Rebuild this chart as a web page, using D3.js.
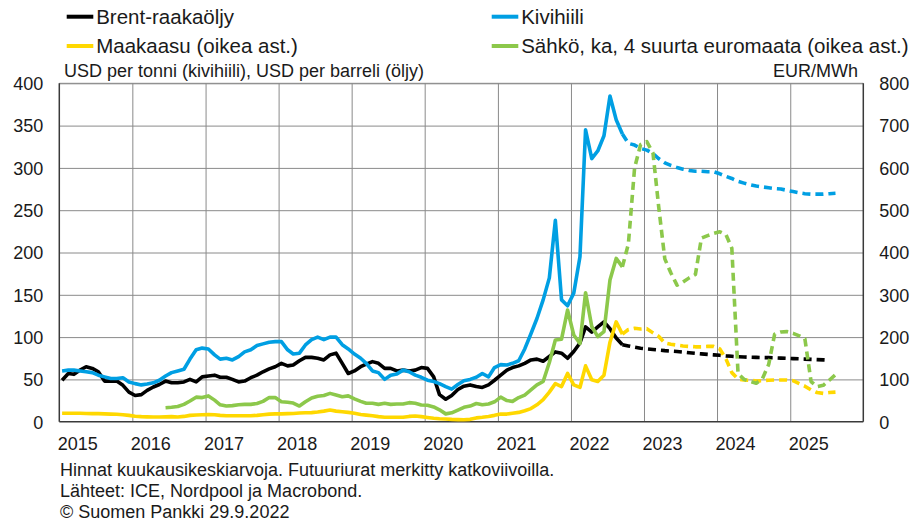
<!DOCTYPE html>
<html>
<head>
<meta charset="utf-8">
<script src="https://cdn.jsdelivr.net/npm/d3@7"></script>
<style>
  body { margin: 0; background: #ffffff; }
  svg text { font-family: "Liberation Sans", Arial, sans-serif; fill: #1a1a1a; }
</style>
</head>
<body>
<svg id="chart" width="918" height="522"></svg>
<script>
// ---------------- DATA ----------------
const yearLabels = ["2015","2016","2017","2018","2019","2020","2021","2022","2023","2024","2025"];
const leftTicks = [0, 50, 100, 150, 200, 250, 300, 350, 400];
const rightTicks = [0, 100, 200, 300, 400, 500, 600, 700, 800];
const seriesNames = ["Brent-raakaöljy", "Kivihiili", "Maakaasu (oikea ast.)", "Sähkö, ka, 4 suurta euromaata (oikea ast.)"];
const leftTitle = "USD per tonni (kivihiili), USD per barreli (öljy)";
const rightTitle = "EUR/MWh";
const notes = [
  "Hinnat kuukausikeskiarvoja. Futuuriurat merkitty katkoviivoilla.",
  "Lähteet: ICE, Nordpool ja Macrobond.",
  "© Suomen Pankki 29.9.2022"
];

// monthly averages, actual data
const actualStart = "2015-01";
const brent = [
  49, 57, 56, 61, 65, 63, 59, 48, 48, 48, 43, 35,
  31, 32, 37, 41, 44, 48, 46, 46, 47, 50, 47, 53,
  54, 55, 52.5, 52.5, 50, 47, 48, 52, 55, 59, 62.5, 65,
  69, 66, 67, 72, 76, 76, 75, 73, 79, 81, 69, 57,
  60, 65, 68, 71, 69, 63, 63, 60, 61, 60, 61, 64,
  63, 53, 32, 26.5, 31, 38, 42, 43.5, 41.5, 40.5, 43.5, 49,
  55, 61, 64, 66, 69, 73, 74, 71.5, 77, 82.5, 81, 75,
  83, 93, 112, 106, 112, 118, 110, 99, 91
];
const coal = [
  60, 61, 61, 60, 59, 58, 55, 53, 51, 51, 52, 47,
  45, 43.5, 44.5, 46, 49, 54, 58, 60, 62, 74, 85, 87,
  86, 79, 74, 75, 73, 77, 82.5, 85, 90, 92, 94, 94.6,
  94.6, 85, 80, 81, 90.7, 97, 100, 97, 100, 100, 91, 86,
  80, 75, 69, 60, 58, 50, 55, 56.5, 61, 59, 55, 52.5,
  49, 47.5, 45, 41.5, 38.5, 44, 48.5, 50, 52.5, 57, 53, 64,
  67.5, 67, 69, 72, 86, 104, 122, 144, 170, 238, 144, 137,
  152, 195, 345, 311, 320, 338, 385, 357, 340
];
const gas = [
  20, 20, 20, 20, 19.5, 19, 19, 18.5, 18, 17.5, 16.5, 15,
  13, 12, 11.5, 11, 11, 11.5, 12, 11, 12.5, 15, 16, 16.5,
  17, 16.5, 15, 14, 14, 14, 14, 14, 15, 16.5, 18, 18.5,
  18.5, 19, 19.5, 20.5, 21, 21.5, 23, 25, 27.5, 25, 23.5, 22,
  20, 17, 15.5, 14, 12, 10.5, 10.5, 10.5, 10.5, 12.5, 13.5, 12,
  10, 8, 7, 6.5, 5.5, 5, 4.5, 5.5, 9, 10.5, 12.5, 15,
  18, 18, 20, 22, 26, 31, 40, 52, 70, 90, 83, 114,
  87, 81, 132, 99, 95, 110, 188, 236, 207
];
const powerStart = "2016-06";
const power = [
  33, 34, 36, 41, 49, 58, 57,
  61, 51, 40, 37, 38, 40, 41, 41, 43, 48, 57, 57,
  47, 46, 44, 37, 47, 56, 60, 62, 67, 63, 59, 61,
  54, 48, 43.5, 43.5, 41, 43.5, 41, 42, 42, 45, 43.5, 39.5,
  39, 35, 28, 18.5, 21, 27.5, 34, 37, 43, 40, 42, 47,
  58, 50, 48, 57, 63, 75, 87, 95, 140, 193, 195, 264,
  205, 185, 305, 225, 201, 213, 335, 386, 366
];

// futures curves (dashed), starting from last actual month
const futuresStart = "2022-09";
const brentFutures = [
  91, 89.5, 88, 86.8, 86, 85.3, 84.7, 84, 83.5, 83, 82.3, 81.5,
  80.8, 80.2, 79.6, 79, 78.5, 77.8, 77.3, 76.8, 76.5, 76.2, 76, 75.8,
  75.7, 75.5, 75.2, 74.9, 74.6, 74.3, 74, 73.7, 73.4, 73.1, 72.8
];
const coalFutures = [
  340, 329, 327, 323, 321, 317, 311, 306, 303, 300.5, 298.5, 297,
  296, 296, 295.5, 295.5, 293, 290, 287.5, 284, 282, 280, 278.5, 277.5,
  276.5, 275.5, 275, 273.5, 272, 270.5, 269.5, 269, 269, 269, 269.5, 270
];
const gasFutures = [
  207, 218, 221, 219, 220, 210, 202, 186, 183, 181, 179, 178,
  177, 177, 178, 178, 172, 148, 116, 101, 98.5, 98, 96, 97,
  98, 98.5, 98.5, 98.5, 97, 90, 84, 75, 69, 67, 69, 70
];
const powerFutures = [
  366, 420, 600, 655, 662, 635, 510, 385, 352, 323, 330, 340,
  348, 434, 440, 445, 449, 442, 410, 114, 100, 95, 91, 102,
  135, 207, 212, 213, 209, 203, 196, 95, 83, 86, 98, 111
];

// ---------------- STYLE / LAYOUT ----------------
const style = {
  colors: ["#000000", "#009fe3", "#ffd800", "#8cc84b"],
  lineWidth: 3.6,
  dash: "8,5",
  grid: "#8a8a8a",
  axis: "#3a3a3a",
  font: 18,
  legendFont: 20.5
};
const plot = { left: 59.3, right: 863.3, top: 83.3, bottom: 421.7 };

// ---------------- SCALES ----------------
const parseMonth = d3.timeParse("%Y-%m");
const x = d3.scaleTime()
  .domain([new Date(2015, 0, 1), new Date(2026, 0, 1)])
  .range([plot.left, plot.right]);
const yL = d3.scaleLinear().domain([0, 400]).range([plot.bottom, plot.top]);
const yR = d3.scaleLinear().domain([0, 800]).range([plot.bottom, plot.top]);

function toPoints(start, values) {
  const s = parseMonth(start);
  return values.map((v, i) => ({ date: d3.timeDay.offset(d3.timeMonth.offset(s, i), 14), v }));
}

const series = [
  { name: seriesNames[0], scale: yL, color: style.colors[0], actual: toPoints(actualStart, brent), fut: toPoints(futuresStart, brentFutures) },
  { name: seriesNames[1], scale: yL, color: style.colors[1], actual: toPoints(actualStart, coal), fut: toPoints(futuresStart, coalFutures) },
  { name: seriesNames[2], scale: yR, color: style.colors[2], actual: toPoints(actualStart, gas), fut: toPoints(futuresStart, gasFutures) },
  { name: seriesNames[3], scale: yR, color: style.colors[3], actual: toPoints(powerStart, power), fut: toPoints(futuresStart, powerFutures) }
];

const svg = d3.select("#chart");

// ---------------- GRID ----------------
const yearDates = yearLabels.map(y => new Date(+y, 0, 1));
const grid = svg.append("g");
grid.append("g")
  .attr("transform", `translate(${plot.left},0)`)
  .call(d3.axisLeft(yL).tickValues(leftTicks.slice(1)).tickSize(-(plot.right - plot.left)).tickFormat(""))
  .call(g => g.select(".domain").remove())
  .call(g => g.selectAll("line").attr("stroke", style.grid).attr("stroke-width", 1));
grid.append("g")
  .attr("transform", `translate(0,${plot.bottom})`)
  .call(d3.axisBottom(x).tickValues(yearDates.slice(1)).tickSize(-(plot.bottom - plot.top)).tickFormat(""))
  .call(g => g.select(".domain").remove())
  .call(g => g.selectAll("line").attr("stroke", style.grid).attr("stroke-width", 1));

// frame
svg.append("line").attr("x1", plot.left).attr("x2", plot.right).attr("y1", plot.top).attr("y2", plot.top)
  .attr("stroke", style.grid).attr("stroke-width", 1);
[[plot.left, plot.top, plot.left, plot.bottom], [plot.right, plot.top, plot.right, plot.bottom], [plot.left, plot.bottom, plot.right, plot.bottom]]
  .forEach(([x1, y1, x2, y2]) => svg.append("line").attr("x1", x1).attr("y1", y1).attr("x2", x2).attr("y2", y2)
    .attr("stroke", style.axis).attr("stroke-width", 1.5));

// ---------------- AXES LABELS ----------------
svg.append("g")
  .attr("transform", `translate(${plot.left},0)`)
  .call(d3.axisLeft(yL).tickValues(leftTicks).tickSize(0).tickPadding(16).tickFormat(d3.format("d")))
  .call(g => g.select(".domain").remove())
  .call(g => g.selectAll("text").attr("font-size", style.font).attr("dy", "0.35em").style("font-family", "Liberation Sans, Arial, sans-serif").attr("fill", "#1a1a1a"));
svg.append("g")
  .attr("transform", `translate(${plot.right},0)`)
  .call(d3.axisRight(yR).tickValues(rightTicks).tickSize(0).tickPadding(16).tickFormat(d3.format("d")))
  .call(g => g.select(".domain").remove())
  .call(g => g.selectAll("text").attr("font-size", style.font).attr("dy", "0.35em").style("font-family", "Liberation Sans, Arial, sans-serif").attr("fill", "#1a1a1a"));
svg.append("g")
  .attr("transform", `translate(0,${plot.bottom})`)
  .call(d3.axisBottom(x).tickValues(yearDates).tickSize(0).tickFormat((d, i) => yearLabels[i]))
  .call(g => g.select(".domain").remove())
  .call(g => g.selectAll("text").attr("font-size", style.font).attr("text-anchor", "start")
    .attr("x", -2).attr("y", 28).attr("dy", 0).style("font-family", "Liberation Sans, Arial, sans-serif").attr("fill", "#1a1a1a"));

svg.append("text").attr("x", 64).attr("y", 77).attr("font-size", style.font).text(leftTitle);
svg.append("text").attr("x", 858).attr("y", 77).attr("text-anchor", "end").attr("font-size", style.font).text(rightTitle);

// ---------------- LINES ----------------
const lines = svg.append("g").attr("fill", "none").attr("stroke-linejoin", "round");
series.forEach(s => {
  const line = d3.line().x(d => x(d.date)).y(d => s.scale(d.v));
  lines.append("path").attr("d", line(s.actual)).attr("stroke", s.color).attr("stroke-width", style.lineWidth);
  lines.append("path").attr("d", line(s.fut)).attr("stroke", s.color).attr("stroke-width", style.lineWidth)
    .attr("stroke-dasharray", style.dash);
});

// ---------------- LEGEND ----------------
const legendPos = [[66.7, 16.7], [491.7, 16.7], [66.7, 46], [491.7, 46]];
series.forEach((s, i) => {
  const [lx, ly] = legendPos[i];
  svg.append("line").attr("x1", lx).attr("x2", lx + 26.6).attr("y1", ly).attr("y2", ly)
    .attr("stroke", s.color).attr("stroke-width", 4);
  svg.append("text").attr("x", lx + 29.5).attr("y", ly + 7.4).attr("font-size", style.legendFont).text(s.name);
});

// ---------------- NOTES ----------------
const noteY = [476, 497, 518];
notes.forEach((t, i) => svg.append("text").attr("x", 60).attr("y", noteY[i]).attr("font-size", style.font).text(t));
</script>
</body>
</html>
